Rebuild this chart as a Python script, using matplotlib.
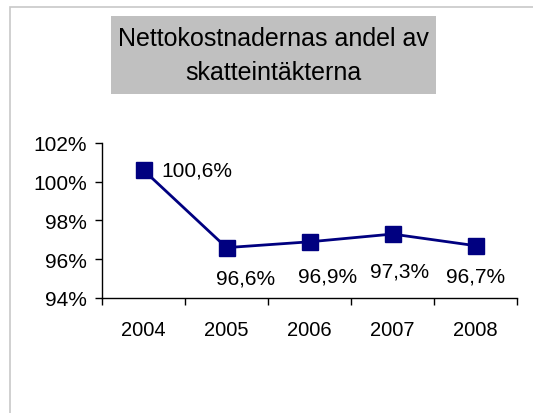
import matplotlib
matplotlib.use("Agg")
import matplotlib.pyplot as plt
from matplotlib.patches import Rectangle
from matplotlib.ticker import FixedLocator, FuncFormatter

plt.rcParams["font.family"] = ["Liberation Sans", "DejaVu Sans"]

years = ["2004", "2005", "2006", "2007", "2008"]
values = [100.6, 96.6, 96.9, 97.3, 96.7]
value_labels = ["100,6%", "96,6%", "96,9%", "97,3%", "96,7%"]
y_ticks = [94, 96, 98, 100, 102]
title_lines = ["Nettokostnadernas andel av", "skatteintäkterna"]

# hand-placed data label offsets (pixels), like in the original sheet
label_offsets = [(18, 0), (19, -30), (18, -34), (7, -37), (0, -30)]

W, H = 533, 414
fig = plt.figure(figsize=(W / 100, H / 100), dpi=100)

# chart area border (light grey, only top and left visible)
fig.patches.append(Rectangle((10 / W, -0.1), 1.2, 1 - 8 / H + 0.1, transform=fig.transFigure,
                             fill=False, edgecolor="#c8c8c8", linewidth=1.2))

# title box
fig.patches.append(Rectangle((111 / W, 1 - 95 / H), 325 / W, 78 / H,
                             transform=fig.transFigure, facecolor="#c0c0c0", edgecolor="none"))
for line, base in zip(title_lines, [46.5, 80]):
    fig.text(273.5 / W, 1 - base / H, line, ha="center", va="baseline", fontsize=18)

ax = fig.add_axes([102 / W, 1 - 299 / H, 415 / W, 155 / H])
x = list(range(len(years)))
ax.plot(x, values, color="#000080", linewidth=2, marker="s", markersize=11,
        markerfacecolor="#000080", markeredgecolor="#000080", clip_on=False, zorder=3)

ax.set_xlim(-0.5, len(years) - 0.5)
ax.set_ylim(y_ticks[0], y_ticks[-1])
ax.set_yticks(y_ticks)
ax.yaxis.set_major_formatter(FuncFormatter(lambda v, p: f"{v:.0f}%"))

ax.set_xticks(x)
ax.set_xticklabels(years)
ax.xaxis.set_minor_locator(FixedLocator([i - 0.5 for i in range(len(years) + 1)]))
ax.tick_params(axis="x", which="major", length=0, pad=16, labelsize=14.5)
ax.tick_params(axis="x", which="minor", length=5, width=1, direction="out")
ax.tick_params(axis="y", length=5, width=1, direction="out", labelsize=15, pad=6)

for s in ["top", "right"]:
    ax.spines[s].set_visible(False)
for s in ["left", "bottom"]:
    ax.spines[s].set_linewidth(1)
    ax.spines[s].set_color("#000000")

for i, (v, lab) in enumerate(zip(values, value_labels)):
    dx, dy = label_offsets[i]
    ax.annotate(lab, (i, v), xytext=(dx, dy), textcoords="offset pixels",
                ha="left" if i == 0 else "center", va="center", fontsize=15)

fig.savefig("out.png", dpi=100)
